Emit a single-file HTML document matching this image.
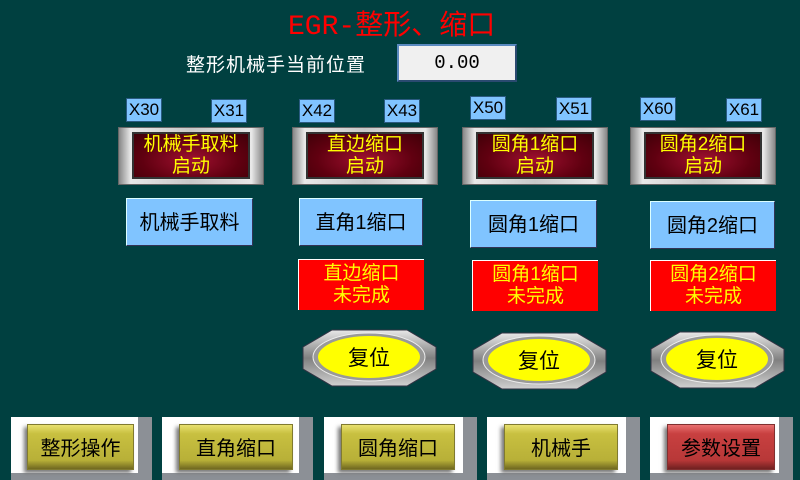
<!DOCTYPE html>
<html><head><meta charset="utf-8">
<style>
*{margin:0;padding:0;box-sizing:border-box}
body{width:800px;height:480px;background:#004040;position:relative;overflow:hidden;font-family:"Liberation Sans","Noto Sans CJK SC",sans-serif}
.a{position:absolute}
.x{position:absolute;width:36px;height:24px;background:#80c4ff;border:1px solid #2a5a80;color:#000;font-size:17px;line-height:22px;text-align:center}
.lamp{position:absolute;width:146px;height:58px;background:linear-gradient(90deg,#888,#e8e8e8 8%,#c8c8c8 50%,#e8e8e8 92%,#888);border:1px solid #666}
.lamp div{position:absolute;left:13px;top:4px;right:13px;bottom:5px;background:radial-gradient(ellipse at 50% 60%,#a01030,#600010 60%,#400008);border:2px solid #333;color:#ffff00;font-size:19px;line-height:22px;text-align:center;padding-top:0px}
.btn{position:absolute;height:48px;background:#80c4ff;border:1px solid #dff;border-right-color:#335;border-bottom-color:#335;color:#000;font-size:20px;line-height:48px;text-align:center}
.red{position:absolute;width:126px;height:51px;background:#ff0000;border-left:1px solid #fff;border-top:1px solid #fff;color:#ffff00;font-size:19px;line-height:22px;text-align:center;padding-top:3px}
.bot{position:absolute;top:417px;height:63px;background:#fff}
.bot .g{position:absolute;right:0;top:0;width:14px;height:63px;background:#8c9096}
.bot .g2{position:absolute;left:0;bottom:0;right:0;height:7px;background:#8c9096}
.bot .in{position:absolute;top:7px;height:46px;background:linear-gradient(#e8e070,#c8c040 20%,#b8b038 80%,#706820);border:1px solid #807a30;color:#000;font-size:20px;line-height:48px;text-align:center;box-shadow:-3px 3px 4px #777}
</style></head><body>
<div class="a" style="left:288px;top:3px;font-size:28px;color:#ff0000;font-family:'Liberation Mono','Noto Sans CJK SC',monospace">EGR-整形、缩口</div>
<div class="a" style="left:186px;top:50px;font-size:19px;color:#fff;letter-spacing:1px">整形机械手当前位置</div>
<div class="a" style="left:397px;top:44px;width:120px;height:38px;background:#f0f0f0;border:2px solid #5a8ac0;border-right-color:#2a4a70;border-bottom-color:#2a4a70;font-size:19px;line-height:34px;text-align:center;color:#000;font-family:'Liberation Mono',monospace">0.00</div>

<div class="x" style="left:126px;top:98px">X30</div>
<div class="x" style="left:211px;top:99px">X31</div>
<div class="x" style="left:299px;top:99px">X42</div>
<div class="x" style="left:384px;top:99px">X43</div>
<div class="x" style="left:470px;top:96px">X50</div>
<div class="x" style="left:556px;top:97px">X51</div>
<div class="x" style="left:640px;top:97px">X60</div>
<div class="x" style="left:726px;top:98px">X61</div>

<div class="lamp" style="left:118px;top:127px"><div>机械手取料<br>启动</div></div>
<div class="lamp" style="left:292px;top:127px"><div>直边缩口<br>启动</div></div>
<div class="lamp" style="left:462px;top:127px"><div>圆角1缩口<br>启动</div></div>
<div class="lamp" style="left:630px;top:127px"><div>圆角2缩口<br>启动</div></div>

<div class="btn" style="left:126px;top:198px;width:127px">机械手取料</div>
<div class="btn" style="left:299px;top:198px;width:124px">直角1缩口</div>
<div class="btn" style="left:470px;top:200px;width:127px">圆角1缩口</div>
<div class="btn" style="left:650px;top:201px;width:125px">圆角2缩口</div>

<div class="red" style="left:298px;top:259px">直边缩口<br>未完成</div>
<div class="red" style="left:472px;top:260px">圆角1缩口<br>未完成</div>
<div class="red" style="left:650px;top:260px">圆角2缩口<br>未完成</div>

<svg class="a" style="left:0;top:0" width="800" height="480">
<defs><linearGradient id="s" x1="0" y1="0" x2="0" y2="1"><stop offset="0" stop-color="#e8e8e8"/><stop offset=".5" stop-color="#808080"/><stop offset="1" stop-color="#d0d0d0"/></linearGradient></defs>
<g font-family="Liberation Sans,Noto Sans CJK SC,sans-serif" font-size="21" text-anchor="middle">
<g transform="translate(302,329)"><polygon points="30,1 105,1 134,18 134,40 105,57 30,57 1,40 1,18" fill="url(#s)" stroke="#334"/><ellipse cx="67" cy="28" rx="56" ry="24" fill="#999" stroke="#eee"/><ellipse cx="67" cy="28" rx="51" ry="21" fill="#ffff00"/><text x="67" y="36">复位</text></g>
<g transform="translate(472,332)"><polygon points="30,1 105,1 134,18 134,40 105,57 30,57 1,40 1,18" fill="url(#s)" stroke="#334"/><ellipse cx="67" cy="28" rx="56" ry="24" fill="#999" stroke="#eee"/><ellipse cx="67" cy="28" rx="51" ry="21" fill="#ffff00"/><text x="67" y="36">复位</text></g>
<g transform="translate(650,331)"><polygon points="30,1 105,1 134,18 134,40 105,57 30,57 1,40 1,18" fill="url(#s)" stroke="#334"/><ellipse cx="67" cy="28" rx="56" ry="24" fill="#999" stroke="#eee"/><ellipse cx="67" cy="28" rx="51" ry="21" fill="#ffff00"/><text x="67" y="36">复位</text></g>
</g></svg>

<div class="bot" style="left:11px;width:141px"><div class="g"></div><div class="g2"></div><div class="in" style="left:16px;width:107px">整形操作</div></div>
<div class="bot" style="left:162px;width:151px"><div class="g"></div><div class="g2"></div><div class="in" style="left:17px;width:114px">直角缩口</div></div>
<div class="bot" style="left:324px;width:153px"><div class="g"></div><div class="g2"></div><div class="in" style="left:17px;width:114px">圆角缩口</div></div>
<div class="bot" style="left:487px;width:153px"><div class="g"></div><div class="g2"></div><div class="in" style="left:17px;width:114px">机械手</div></div>
<div class="bot" style="left:650px;width:143px"><div class="g"></div><div class="g2"></div><div class="in" style="left:17px;width:108px;background:linear-gradient(#e87070,#c84040 20%,#b83838 80%,#702020);border-color:#803030">参数设置</div></div>
</body></html>
